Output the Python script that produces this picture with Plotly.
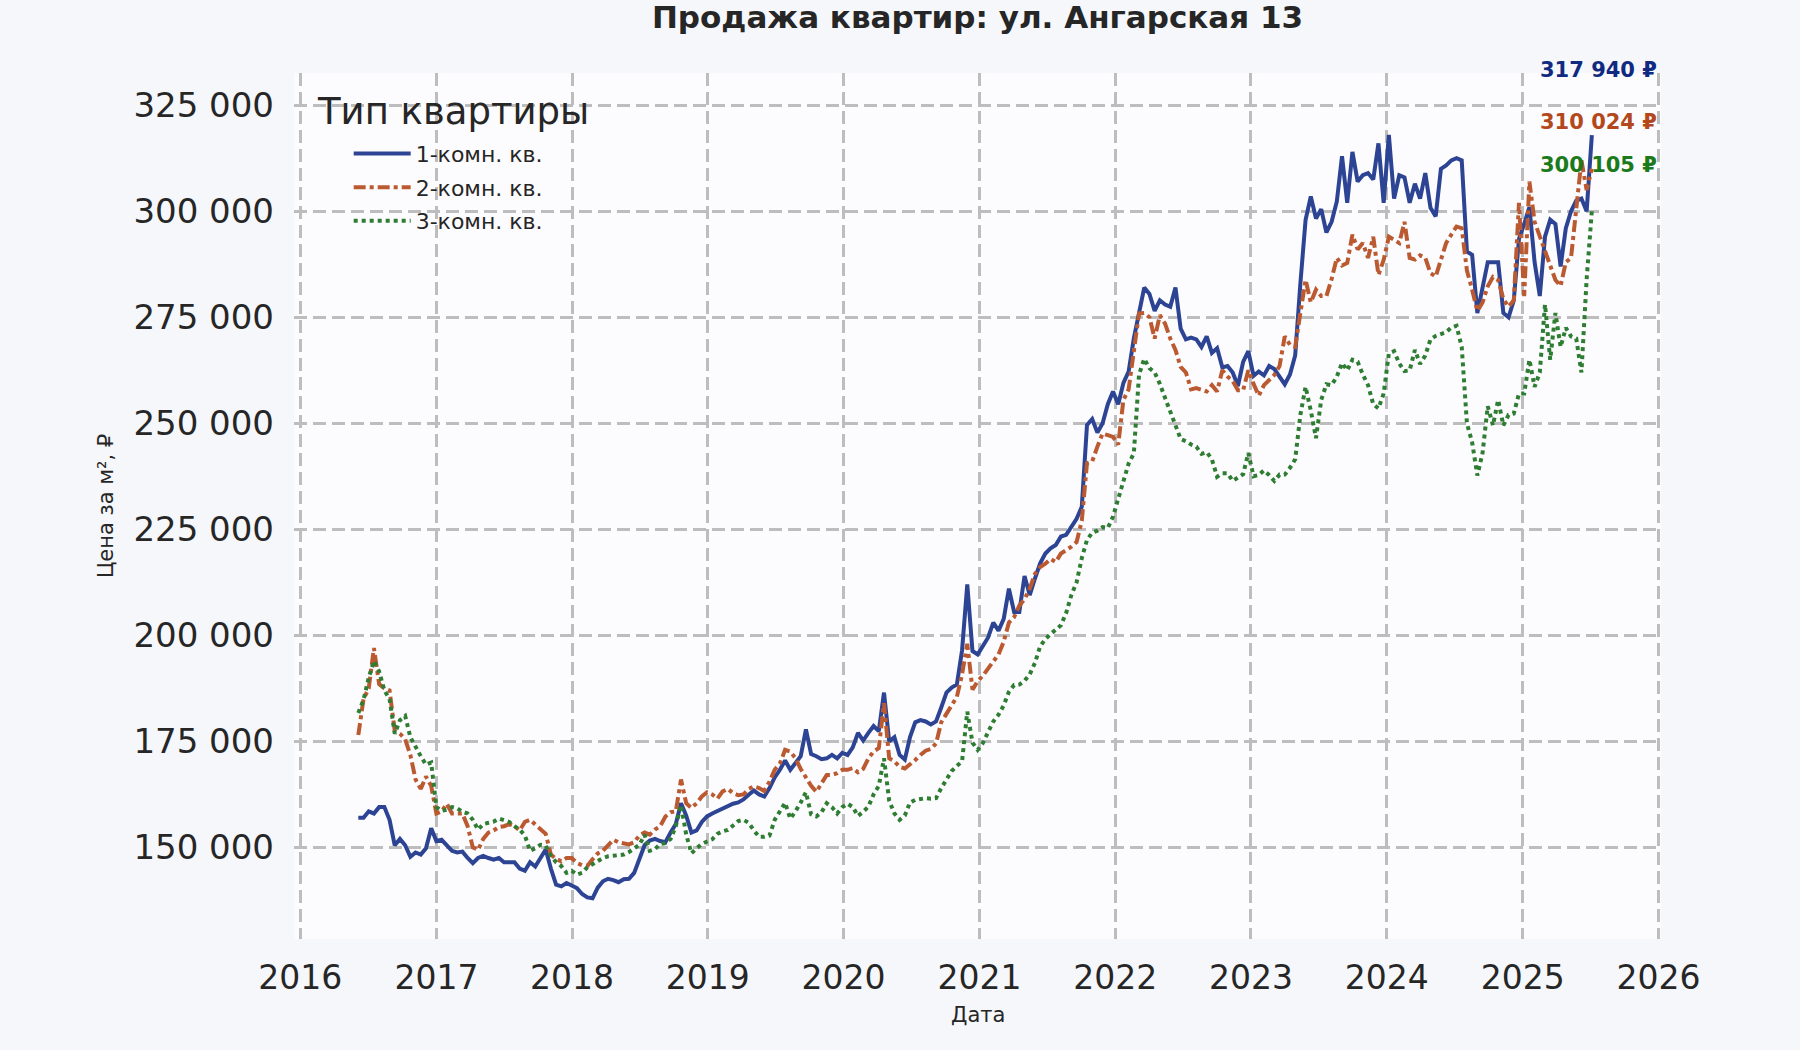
import pandas as pd
import plotly.graph_objects as go

# biweekly observations, prices in thousands of rubles per m²
dates = pd.date_range("2016-06-05", periods=238, freq="14D")

one_room = [
    157, 157, 158.5, 158, 159.5, 159.5, 156.5, 150.5, 152, 150.5,
    147.8, 148.8, 148.3, 149.8, 154.5, 151.5, 151.8, 150.5, 149.2, 148.8,
    149, 147.5, 146.3, 147.5, 148, 147.5, 147.1, 147.5, 146.5, 146.5,
    146.5, 145, 144.5, 146.5, 145.5, 147.5, 149.5, 145, 141.2, 140.8,
    141.6, 141, 140.4, 139, 138.2, 138, 140.5, 142, 142.6, 142.3,
    141.8, 142.5, 142.6, 144, 147, 150.5, 151.6, 152, 151.5, 151.2,
    153.5, 155.5, 160.4, 157.5, 153.5, 154, 156, 157.3, 158, 158.6,
    159.3, 159.8, 160.3, 160.6, 161.3, 162.4, 163.4, 162.5, 162, 164,
    166.5, 168.3, 170.5, 168.3, 169.8, 171.5, 177.8, 172, 171.5, 170.8,
    171, 171.8, 171, 172.3, 171.8, 173.6, 177, 175.2, 177, 178.6,
    177.4, 186.5, 175, 176, 171.8, 170.7, 176, 179.5, 180, 179.7,
    179, 179.7, 183, 186.5, 187.7, 188.4, 196.5, 212, 196.3, 195.5,
    197.5, 199.5, 203, 201.1, 203.9, 211, 205.5, 205.5, 214, 209.5,
    213.4, 217, 219.3, 220.5, 221.3, 223.3, 223.7, 225.4, 227.5, 230.3,
    249.6, 251, 247.8, 250, 254.5, 257.5, 254.5, 259.5, 262.2, 270,
    276.5, 282, 280.5, 276.5, 279, 278, 277.5, 282, 272.3, 269.8,
    270.2, 269.8, 268, 270.5, 266.6, 267.7, 263.2, 263.5, 262, 258.8,
    264.5, 267, 261.2, 262.2, 261.3, 263.5, 262.8, 260.8, 259.2, 261.5,
    266, 283, 298, 303.5, 298.3, 300.5, 295, 297.5, 302.3, 313,
    302, 314, 307, 308.5, 309, 307.5, 316, 302, 318, 303,
    308.5, 308, 302, 306.5, 303, 309, 300.8, 298.8, 310, 310.8,
    312, 312.5, 312, 290.5, 289.7, 276, 281.5, 288, 288, 288,
    276, 275, 279, 293.5, 297, 301, 288, 280, 294, 298,
    297, 287, 296, 300, 302.5, 303, 300, 317.94,
]

two_room = [
    176.5, 185, 187.5, 197, 188.5, 187.5, 187, 177.5, 176.8, 175.5,
    171.8, 166, 163.8, 166.7, 164.5, 158, 158.5, 160.3, 158, 158.1,
    158, 155, 150, 149.4, 152, 153.5, 154, 154.8, 155, 155.5,
    155, 154, 156, 156.5, 155.3, 154.3, 153.2, 148.3, 147.3, 146.7,
    147.5, 147.5, 146.3, 145.8, 145.6, 147.2, 148.6, 149.2, 150.5, 151.8,
    151.2, 151, 150.7, 151.2, 152.8, 153.5, 153, 154.2, 155, 157.3,
    158.3, 158.5, 166, 160.4, 159.3, 160.4, 162, 163, 162.5, 161.5,
    163.2, 163.8, 162.8, 162.3, 162.5, 163.8, 164.4, 164, 163.3, 165.5,
    168.3, 169.8, 173, 172.6, 171, 168.5, 166.5, 164.5, 163.1, 165,
    167.1, 167.1, 167.5, 168.3, 168.3, 168.7, 167.7, 168.5, 171, 172.6,
    173.4, 184, 171, 170.3, 169, 168.6, 169.5, 170.6, 171.8, 172.8,
    173.2, 174.5, 179.5, 181.6, 183.5, 185.5, 190.8, 198, 187.2, 189.2,
    190.5, 192.2, 193.5, 195.5, 198.5, 203, 204.3, 207, 208.5, 211,
    214.5, 216.1, 216.9, 218, 217.3, 219.3, 220.1, 220.9, 222, 227,
    240.6, 241, 244.5, 247.6, 247.2, 246.8, 245, 255.5, 258, 266.5,
    275.9, 276, 275, 270, 275.5, 273.5, 270, 267.3, 263.3, 262,
    258, 258.3, 258, 257.5, 259, 257.5, 262.5, 261, 260, 257.8,
    257.8, 262.5, 259.3, 256.5, 259, 260.2, 261.4, 263.5, 270.5, 268.5,
    268, 276, 283.8, 278.5, 281.5, 280, 280, 284, 289, 287.2,
    287.8, 294.5, 291, 292.5, 289, 294, 285, 288.5, 294, 293.3,
    292.5, 297.5, 289, 288.6, 289.6, 289, 285.4, 284.6, 288.7, 292.5,
    294.5, 296.4, 296, 286, 281.5, 276.5, 278.5, 282.3, 284.5, 283.8,
    279.3, 277.5, 279, 302, 280, 307, 297.5, 294, 291, 287.5,
    283.8, 282.4, 288, 289, 300, 312, 305, 310.024,
]

three_room = [
    181.7, 184.8, 190, 194, 191.5, 187, 185, 176.8, 180, 181,
    176, 173.6, 171.5, 169.5, 170, 159.5, 158.6, 158.9, 159.5, 159.2,
    158.4, 158, 156.5, 154.2, 155.5, 155.8, 156.1, 156.8, 156.5, 156,
    155, 154.2, 152.8, 149.2, 149.8, 150.6, 150.4, 148, 146.5, 145.6,
    144, 144.5, 143.6, 144, 145.3, 146, 146.7, 147.5, 147.9, 148.1,
    148.3, 148.3, 148.9, 149.8, 150.6, 153, 149.2, 149.6, 150.8, 151,
    152, 155, 160, 153, 148.6, 149.8, 150.8, 151.4, 151.9, 153.2,
    153.8, 154.1, 155.2, 156.2, 156.5, 155.8, 154, 152.5, 152.5, 152.8,
    156.5, 158.3, 160.5, 156.8, 158.5, 160.6, 163, 157.8, 157.3, 158.3,
    160.4, 159.5, 158, 159.5, 160.3, 159.5, 157.4, 158.4, 159.6, 162.5,
    164.5, 171, 161, 158, 156.5, 157.5, 160.6, 161.2, 161.5, 161.6,
    161.5, 161.6, 164, 165.9, 168, 169.2, 170.3, 182, 174.7, 173,
    174.6, 177.2, 179.7, 181.3, 183.5, 186.7, 188.3, 188.4, 189.3, 190.8,
    193.5, 197.4, 199.1, 200.3, 201.3, 202.4, 205.3, 209.5, 212.5, 218.2,
    222.5, 224.2, 224.7, 225.5, 225.3, 228, 232.2, 236.5, 240.5, 242.9,
    261.5, 265.2, 263, 262, 259.3, 256, 252.8, 249.6, 246.3, 245.8,
    245, 244.5, 242.8, 243.2, 241.5, 237.4, 238.2, 238.2, 236.4, 237.2,
    238, 243, 237.5, 237.8, 238.9, 237.8, 236.4, 237.9, 237.9, 239.5,
    241.5, 252, 258.6, 253, 246.5, 255.5, 259.2, 259, 261, 264.2,
    262.5, 265, 264.5, 261.5, 259, 254.5, 253.5, 257, 266.5, 267,
    264.1, 262.3, 262.5, 267.3, 264, 266, 269.8, 270.6, 271.1, 271.5,
    272.6, 273, 268, 250, 245.5, 237.7, 243, 254, 249.5, 255.5,
    249.5, 252, 252.3, 257, 257, 265, 258.6, 262, 278, 265,
    276, 268, 272.5, 270.5, 270, 262, 284, 300.105,
]

names = ["1-комн. кв.", "2-комн. кв.", "3-комн. кв."]
colors = ["#2c4493", "#bb5a31", "#2e7d32"]
label_colors = ["#0f2a80", "#b3481c", "#1b7a1b"]
dashes = ["solid", "dashdot", "4px,4px"]
# how far above the last point each price label sits, px
label_shift = [65, 47, 46]

FONT = "DejaVu Sans"

fig = go.Figure()
for i, series in enumerate([one_room, two_room, three_room]):
    fig.add_trace(go.Scatter(
        x=dates,
        y=[v * 1000 for v in series],
        mode="lines",
        name=names[i],
        legendgroup=str(i),
        line=dict(color=colors[i], width=4, dash=dashes[i]),
    ))

# last price labels
for i, series in enumerate([one_room, two_room, three_room]):
    last = series[-1] * 1000
    fig.add_annotation(
        x=dates[-1], y=last, yshift=label_shift[i], xshift=7,
        text="<b>" + f"{last:,.0f}".replace(",", " ") + " ₽</b>",
        showarrow=False, xanchor="center", yanchor="middle",
        font=dict(family=FONT, size=21, color=label_colors[i]),
    )

# legend title (drawn apart so the entries can be indented)
fig.add_annotation(
    x=0.015, y=0.955, xref="paper", yref="paper",
    text="Тип квартиры", showarrow=False,
    xanchor="left", yanchor="middle",
    font=dict(family=FONT, size=37, color="#262626"),
)
# axis titles
fig.add_annotation(
    x=-0.1375, y=0.5, xref="paper", yref="paper",
    text="Цена за м², ₽", textangle=-90, showarrow=False,
    xanchor="center", yanchor="middle",
    font=dict(family=FONT, size=21, color="#262626"),
)
fig.add_annotation(
    x=0.5, y=-0.088, xref="paper", yref="paper",
    text="Дата", showarrow=False,
    xanchor="center", yanchor="middle",
    font=dict(family=FONT, size=21, color="#262626"),
)

grid = dict(showgrid=True, gridcolor="#bdbdbd", gridwidth=2.5, griddash="13px,6px",
            zeroline=False, showline=False, ticks="")

fig.update_layout(
    width=1800, height=1050,
    paper_bgcolor="#f5f7fb",
    plot_bgcolor="#fcfcfe",
    separators=". ",
    margin=dict(l=294, r=139, t=73, b=111),
    font=dict(family=FONT, color="#262626"),
    title=dict(
        text="<b>Продажа квартир: ул. Ангарская 13</b>",
        x=0.5, xref="paper", y=1 - 17 / 1050, yref="container",
        xanchor="center", yanchor="middle",
        font=dict(family=FONT, size=31, color="#262626"),
    ),
    xaxis=dict(
        grid,
        type="date",
        range=["2015-12-15", "2026-01-08"],
        tick0="2016-01-01", dtick="M12", tickformat="%Y",
        tickfont=dict(family=FONT, size=33, color="#262626"),
        ticklabelstandoff=16,
    ),
    yaxis=dict(
        grid,
        range=[128400, 332600],
        tick0=150000, dtick=25000, tickformat=",d",
        tickfont=dict(family=FONT, size=34, color="#262626"),
        ticklabelstandoff=19,
    ),
    legend=dict(
        x=0.040, y=0.931, xanchor="left", yanchor="top",
        bgcolor="rgba(0,0,0,0)", borderwidth=0,
        font=dict(family=FONT, size=22, color="#262626"),
        itemwidth=57, tracegroupgap=2,
    ),
    showlegend=True,
)

fig.write_html(
    "out.html",
    config={"displayModeBar": False},
    post_script="document.body.style.margin='0';document.body.style.background='#f5f7fb';",
)
